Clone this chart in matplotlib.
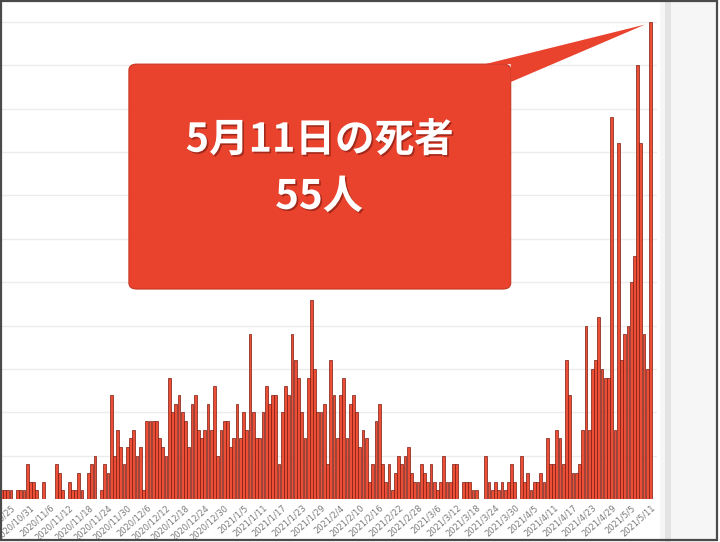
import numpy as np
import pandas as pd
import matplotlib
matplotlib.use("Agg")
import matplotlib.pyplot as plt
import matplotlib.patheffects as pe
from matplotlib.patches import FancyBboxPatch, Polygon, Rectangle

# daily deaths, 2020/10/22 .. 2021/5/11
deaths = [
    1, 1, 1, 1,
    0, 1, 1, 1, 4, 2, 2, 1, 0, 2, 0, 0, 0, 4, 3, 1, 0, 2, 1, 1, 3, 1, 0, 3, 4, 5,
    0, 1, 4, 3,
    12, 5, 8, 6, 4, 6, 7, 8, 5, 6,
    1, 9, 9, 9, 9, 7, 6, 5, 14, 10,
    11, 12, 10, 9, 6, 11, 12, 8, 7, 8,
    11, 8, 13, 5, 8, 9, 9, 6, 7, 11,
    7, 10, 8, 19, 10, 7, 7, 10, 13, 11,
    12, 12, 4, 10, 13, 12, 19, 16, 14, 10,
    7, 14, 23, 15, 10, 10, 11, 4, 16, 12,
    7, 12, 14, 7, 11, 12, 10, 6, 8, 7,
    2, 4, 9, 11, 4, 2, 4, 1, 3, 5,
    4, 5, 6, 3, 2, 2, 4, 3, 2, 4,
    2, 1, 2, 5, 2, 2, 4, 4, 0, 2,
    2, 2, 1, 1, 0, 0, 5, 2, 1, 2,
    1, 2, 1, 2, 4, 2, 0, 5, 2, 3,
    1, 2, 2, 3, 2, 7, 4, 4, 8, 7,
    4, 16, 12, 3, 3, 4, 8, 20, 8, 15,
    16, 21, 15, 14, 14, 44, 8, 41, 16, 19,
    20, 25, 28, 50, 41, 19, 15, 55,
]
dates = pd.date_range(end="2021-05-11", periods=len(deaths), freq="D")
first_label = pd.Timestamp("2020-10-25")
label_step = 6
callout_lines = ["5月11日の死者", "55人"]

x = np.arange(len(deaths))
tick_pos = [i for i, d in enumerate(dates) if d >= first_label and (d - first_label).days % label_step == 0]
tick_lab = [f"{dates[i].year}/{dates[i].month}/{dates[i].day}" for i in tick_pos]

fig = plt.figure(figsize=(7.2, 5.42), dpi=100)
fig.patch.set_facecolor("white")

# grey strip on the right side of the screenshot
fig.add_artist(Rectangle((660 / 720, 0), 57 / 720, 1, transform=fig.transFigure,
                         facecolor="#f6f6f6", edgecolor="none", zorder=0))
fig.add_artist(Rectangle((665 / 720, 0), 6 / 720, 1, transform=fig.transFigure,
                         facecolor="#e3e3e3", edgecolor="none", zorder=0))

ax = fig.add_axes([1 / 720, 43 / 542, 656 / 720, 497 / 542])
ax.set_facecolor("none")
ax.bar(x, deaths, width=0.86, color="#ec4f36", edgecolor="#7a1a10", linewidth=0.5, zorder=2)

ax.set_xlim(-0.1, 203.0)
ax.set_ylim(0, 57.3)
ax.set_yticks(range(5, 56, 5))
ax.grid(axis="y", color="#ececec", linewidth=1)
ax.set_axisbelow(True)
ax.tick_params(axis="y", left=False, labelleft=False)
ax.set_xticks(tick_pos)
ax.set_xticklabels(tick_lab, rotation=42, ha="right", rotation_mode="anchor",
                   fontsize=6, color="#7a7a7a", family="DejaVu Sans")
ax.tick_params(axis="x", length=0, pad=3)
for s in ax.spines.values():
    s.set_visible(False)

# callout box with pointer to the last bar
red = "#e9432e"
box = FancyBboxPatch((0.195, 0.4225), 0.582, 0.4525, boxstyle="round,pad=0,rounding_size=0.012",
                     transform=ax.transAxes, facecolor=red, edgecolor="#c93520", linewidth=0.8,
                     zorder=5, clip_on=False)
ax.add_patch(box)
tip = ax.transAxes.inverted().transform(ax.transData.transform((x[-1] - 1.7, deaths[-1] - 0.3)))
ptr = Polygon([(0.738, 0.875), tuple(tip), (0.777, 0.839), (0.777, 0.875)], closed=True,
              transform=ax.transAxes, facecolor=red, edgecolor="none", zorder=5, clip_on=False)
ax.add_patch(ptr)

shadow = [pe.withSimplePatchShadow(offset=(1.2, -1.2), shadow_rgbFace="#6a140a", alpha=0.55)]
ax.text(0.486, 0.722, callout_lines[0], transform=ax.transAxes, ha="center", va="center",
        fontsize=28.5, fontweight="bold", color="white",
        family=["Noto Sans CJK JP", "DejaVu Sans"], zorder=6, path_effects=shadow)
ax.text(0.485, 0.607, callout_lines[1], transform=ax.transAxes, ha="center", va="center",
        fontsize=29, fontweight="bold", color="white",
        family=["Noto Sans CJK JP", "DejaVu Sans"], zorder=6, path_effects=shadow)

# dark frame of the screenshot
fig.add_artist(Rectangle((0.7 / 720, 2 / 542), 716.5 / 720, 539 / 542, transform=fig.transFigure,
                         fill=False, edgecolor="#4a4a4a", linewidth=1.6, zorder=10))

fig.savefig("out.png", dpi=100)
